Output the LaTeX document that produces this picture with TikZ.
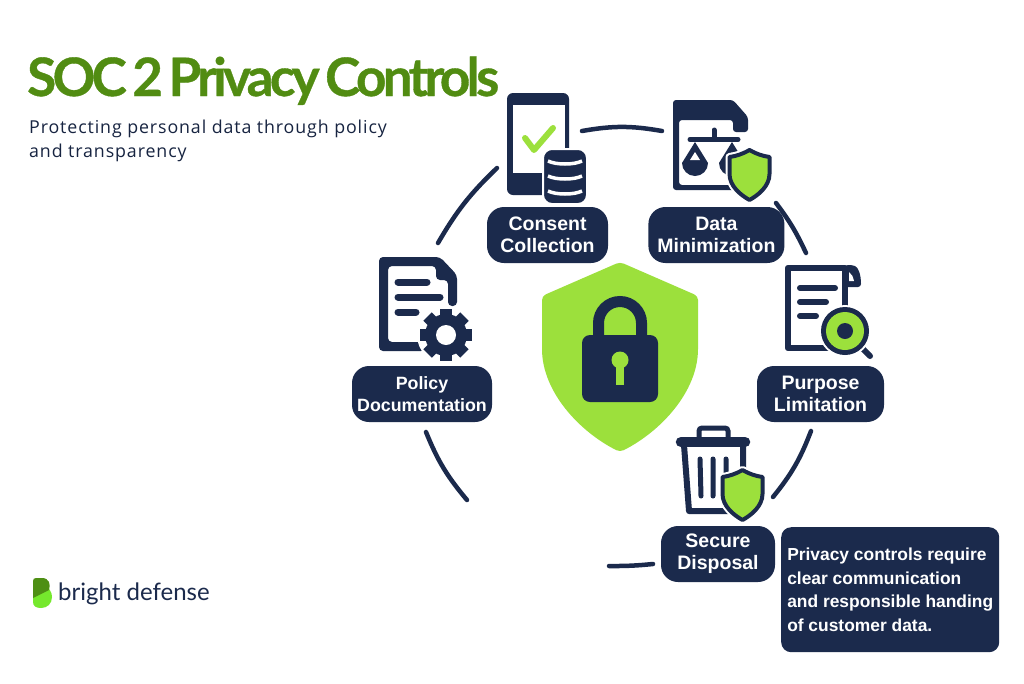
\documentclass[tikz,border=0pt]{standalone}
\usepackage{fontspec}
\usepackage{xcolor}
\setmainfont[LetterSpace=5]{Open Sans}
\newfontfamily\titlefont[LetterSpace=-7,WordSpace=0.6,FakeBold=0.7]{Lato Bold}
\newfontfamily\labelfont{Liberation Sans}
\newfontfamily\brandfont{Lato}
\usetikzlibrary{arrows.meta,positioning}
\definecolor{navy}{HTML}{1B2A4C}
\definecolor{leaf}{HTML}{9CE03C}
\definecolor{moss}{HTML}{518C12}
\definecolor{darkleaf}{HTML}{4E8F14}

\begin{document}
\begin{tikzpicture}[
  x=1pt, y=-1pt,
  node distance=40pt and 40pt,
  pill/.style={fill=navy, text=white, rounded corners=17pt, align=center, inner sep=0pt,
    minimum height=56pt, font=\labelfont\bfseries\fontsize{19.5}{22}\selectfont},
  ring/.style={draw=navy, line width=4.5pt, line cap=round},
  ink/.style={draw=navy, line cap=round},
  shieldmark/.pic={
    \path[draw=white, line width=8pt, line join=round, fill=white] (0,0) .. controls (7,4) and (13,6) .. (20,7) -- (20,24)
      .. controls (20,36) and (9,45) .. (0,50) .. controls (-9,45) and (-20,36) .. (-20,24) -- (-20,7)
      .. controls (-13,6) and (-7,4) .. (0,0) -- cycle;
    \path[draw=navy, line width=4pt, line join=round, fill=leaf] (0,0) .. controls (7,4) and (13,6) .. (20,7) -- (20,24)
      .. controls (20,36) and (9,45) .. (0,50) .. controls (-9,45) and (-20,36) .. (-20,24) -- (-20,7)
      .. controls (-13,6) and (-7,4) .. (0,0) -- cycle;
  }
]
  \useasboundingbox[fill=white] (0,0) rectangle (1024,683);

  % heading
  \node[anchor=base west, inner sep=0pt, text=moss, font=\titlefont\fontsize{53}{53}\selectfont] (title) at (27,96) {SOC 2 Privacy Controls};
  \node[anchor=north west, inner sep=0pt, text=navy!85!black, align=left, font=\fontsize{17.8}{24}\selectfont] (subtitle) at (29,119.5) {Protecting personal data through policy\\and transparency};

  % ring segments
  \coordinate (arcAs) at (438,243); \coordinate (arcAe) at (497,168);
  \coordinate (arcBs) at (582,131); \coordinate (arcBe) at (662,131);
  \coordinate (arcCs) at (776,203); \coordinate (arcCe) at (806,253);
  \coordinate (arcDs) at (811,431); \coordinate (arcDe) at (773,497);
  \coordinate (arcEs) at (653,564); \coordinate (arcEe) at (609,566);
  \coordinate (arcFs) at (467,500); \coordinate (arcFe) at (426,432);
  \draw[ring] (arcAs) to[bend left=8] (arcAe);
  \draw[ring] (arcBs) to[bend left=10] (arcBe);
  \draw[ring] (arcCs) to[bend left=6] (arcCe);
  \draw[ring] (arcDs) to[bend left=9] (arcDe);
  \draw[ring] (arcEs) to[bend left=3] (arcEe);
  \draw[ring] (arcFs) to[bend left=9] (arcFe);

  % labels
  \node[pill, minimum width=121pt] (consent) at (547.5,235) {Consent\\Collection};
  \node[pill, minimum width=136pt, right=40pt of consent] (data) {Data\\Minimization};
  \node[pill, minimum width=140pt, font=\labelfont\bfseries\fontsize{17.8}{22}\selectfont] (policy) at (422,394) {Policy\\Documentation};
  \node[pill, minimum width=127pt] (purpose) at (820.5,394) {Purpose\\Limitation};
  \node[pill, minimum width=114pt] (secure) at (718,554) {Secure\\Disposal};
  \node[fill=navy, text=white, rounded corners=10pt, align=left, inner sep=0pt, minimum width=218pt, minimum height=125pt,
    font=\labelfont\bfseries\fontsize{17.4}{23.4}\selectfont, anchor=north west] (note) at (781,527)
    {Privacy controls require\\clear communication\\and responsible handing\\of customer data.};

  % centre shield and lock
  \fill[leaf, rounded corners=4pt] (620,262) -- (698,296) -- (698,345) .. controls (698,392) and (660,432) .. (620,452)
    .. controls (580,432) and (542,392) .. (542,345) -- (542,296) -- cycle;
  \draw[navy, line width=11pt] (598.5,340) -- (598.5,323) arc[start angle=180, end angle=360, radius=21.5] -- (641.5,340);
  \fill[navy, rounded corners=8pt] (582,335) rectangle (658,402);
  \fill[leaf] (620,360) circle[radius=8.5];
  \fill[leaf] (616,362) rectangle (624,385);

  % phone with database
  \fill[navy, rounded corners=6pt] (507,93) rectangle (569,195);
  \fill[white] (513,105) rectangle (565,173);
  \draw[leaf, line width=6pt, line cap=round, line join=round] (525,138) -- (534,150) -- (553,128);
  \fill[navy, rounded corners=9pt, draw=white, line width=2pt] (543,149) rectangle (587,204);
  \foreach \y in {164,179,194}
    \draw[white, line width=3.5pt] (548,\y-3) .. controls (556,\y+1) and (574,\y+1) .. (582,\y-3);

  % document with scales
  \fill[navy, rounded corners=3pt] (673,100) -- (733,100) -- (748,117) -- (748,132) -- (733,132) -- (733,120) -- (679,120)
    -- (679,185) -- (735,185) -- (735,190) -- (673,190) -- cycle;
  \draw[ink, line width=5pt] (714,130) -- (714,139) (690,139.5) -- (738,139.5);
  \foreach \x in {695,732} {
    \fill[navy] (\x,142) -- (\x+13,163) arc[start angle=0, end angle=180, radius=13] -- cycle;
    \fill[white] (\x,152) -- (\x+5,160) -- (\x-5,160) -- cycle;
  }
  \pic[scale=1] at (749.5,150) {shieldmark};

  % document with gear
  \fill[navy, rounded corners=4pt] (379,257) -- (440,257) -- (457,275) -- (457,306) -- (448,306) -- (448,280) -- (436,280) -- (436,266)
    -- (388,266) -- (388,342) -- (425,342) -- (425,351) -- (379,351) -- cycle;
  \draw[ink, line width=7pt] (398,282) -- (427,282) (398,297) -- (440,297) (398,312) -- (416,312);
  \fill[white] (446,335) circle[radius=29];
  \foreach \a in {0,45,...,315}
    \fill[navy, rotate around={\a:(446,335)}] (440,309) rectangle (452,320);
  \fill[navy] (446,335) circle[radius=21];
  \fill[white] (446,335) circle[radius=10];

  % document with magnifier
  \draw[navy, line width=6.5pt, line join=round] (845,348) -- (788,348) -- (788,268) -- (845,268) -- (845,310);
  \fill[navy, rounded corners=3pt] (845,265) -- (852,265) .. controls (858,267) and (861,274) .. (861,287) -- (845,287) -- cycle;
  \fill[white] (849,272) .. controls (852,274) and (853,277) .. (854,281) -- (849,281) -- cycle;
  \draw[ink, line width=6pt] (800,288) -- (835,288) (800,302) -- (826,302) (800,316) -- (816,316);
  \draw[ink, line width=6pt] (862,348) -- (870,356);
  \fill[white] (845,331) circle[radius=26];
  \fill[navy] (845,331) circle[radius=24];
  \fill[leaf] (845,331) circle[radius=19];
  \fill[navy] (845,331) circle[radius=8];

  % bin with shield
  \draw[navy, line width=5pt, rounded corners=3pt] (699,439) -- (699,428) -- (728,428) -- (728,439);
  \draw[ink, line width=10.5pt] (681,442) -- (745,442);
  \draw[navy, line width=6pt, line join=round] (684,445) -- (689,511) -- (735,511) (743,445) -- (743,480);
  \draw[ink, line width=5pt] (700,459) -- (701,496) (713,459) -- (713,496) (726,459) -- (726,478);
  \pic[scale=1] at (742.5,470) {shieldmark};

  % logo
  \fill[leaf!75!green] (33,594) -- (41,586) .. controls (50,586) and (52,593) .. (52,597) .. controls (52,604) and (47,608) .. (41,608) .. controls (36,608) and (33,606) .. (33,602) -- cycle;
  \fill[darkleaf] (33,581) .. controls (33,579) and (34,578) .. (36,578) -- (42,578) .. controls (49,578) and (51,584) .. (49,590) -- (33,598) -- cycle;
  \node[anchor=base west, inner sep=0pt, text=navy, font=\brandfont\fontsize{24}{24}\selectfont] (brand) at (58,600) {bright defense};
\end{tikzpicture}
\end{document}
